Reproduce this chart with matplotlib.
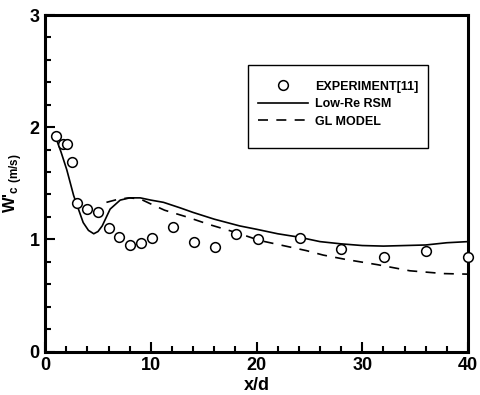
import numpy as np
import matplotlib
matplotlib.use("Agg")
import matplotlib.pyplot as plt
from matplotlib.ticker import MultipleLocator
from matplotlib.patches import Rectangle

plt.rcParams['font.family'] = ['Liberation Sans', 'DejaVu Sans']
plt.rcParams['font.weight'] = 'bold'
plt.rcParams['mathtext.fontset'] = 'custom'
plt.rcParams['mathtext.rm'] = 'Liberation Sans:bold'
plt.rcParams['mathtext.bf'] = 'Liberation Sans:bold'

# experiment [11]
exp_x = [1.0, 1.7, 2.05, 2.5, 3.0, 4.0, 5.0, 6.05, 7.0, 8.0, 9.05, 10.1,
         12.1, 14.1, 16.1, 18.1, 20.1, 24.1, 28.0, 32.1, 36.0, 40.0]
exp_y = [1.92, 1.85, 1.85, 1.69, 1.32, 1.27, 1.24, 1.10, 1.02, 0.95, 0.97, 1.01,
         1.11, 0.98, 0.93, 1.05, 1.00, 1.01, 0.91, 0.84, 0.90, 0.84]

# Low-Re RSM
rsm_x = [1.0, 1.5, 2.05, 2.7, 3.0, 3.6, 4.1, 4.6, 5.0, 5.4, 6.15, 7.1, 8.0, 9.0,
         10.0, 11.2, 12.8, 14.0, 16.0, 18.4, 20.0, 22.0, 24.0, 26.0, 28.0, 30.0,
         32.0, 34.0, 36.0, 38.0, 40.0]
rsm_y = [1.91, 1.78, 1.62, 1.39, 1.31, 1.15, 1.08, 1.05, 1.07, 1.12, 1.27, 1.35, 1.37, 1.37,
         1.35, 1.33, 1.28, 1.24, 1.18, 1.12, 1.09, 1.05, 1.02, 0.98, 0.96, 0.945,
         0.94, 0.945, 0.95, 0.97, 0.98]

# GL model
gl_x = [5.8, 7.0, 8.0, 9.0, 9.9, 11.3, 13.4, 15.6, 18.1, 20.3, 22.5, 24.7, 26.3,
        28.5, 31.4, 34.5, 37.7, 40.0]
gl_y = [1.33, 1.36, 1.37, 1.36, 1.32, 1.26, 1.20, 1.13, 1.06, 0.99, 0.945, 0.90, 0.86,
        0.82, 0.775, 0.72, 0.695, 0.69]

fig = plt.figure(figsize=(4.8, 3.95), dpi=100)
ax = fig.add_axes([0.094, 0.11, 0.881, 0.852])

ax.plot(exp_x, exp_y, 'o', mfc='white', mec='black', ms=7, mew=1.1,
        label='EXPERIMENT[11]', zorder=3, clip_on=False)
ax.plot(rsm_x, rsm_y, '-', color='black', lw=1.2, label='Low-Re RSM')
ax.plot(gl_x, gl_y, '--', color='black', lw=1.2, dashes=(6, 5), label='GL MODEL')

ax.set_xlim(0, 40)
ax.set_ylim(0, 3)
ax.xaxis.set_major_locator(MultipleLocator(10))
ax.xaxis.set_minor_locator(MultipleLocator(2))
ax.yaxis.set_major_locator(MultipleLocator(1))
ax.yaxis.set_minor_locator(MultipleLocator(0.2))
ax.tick_params(which='both', direction='in', top=False, right=False, width=1.5)
ax.tick_params(which='major', length=7, labelsize=13, pad=4)
ax.tick_params(which='minor', length=4)
for s in ax.spines.values():
    s.set_linewidth(2.2)

ax.set_xlabel('x/d', fontsize=13, fontweight='bold', labelpad=2)
ax.set_ylabel(r"W'$_{\mathrm{c\ (m/s)}}$", fontsize=12, fontweight='bold', labelpad=4)

# legend box drawn separately
ax.add_patch(Rectangle((0.48, 0.605), 0.425, 0.246, transform=ax.transAxes,
                       fill=False, edgecolor='black', lw=1.0, zorder=4))
leg = ax.legend(loc='center left', bbox_to_anchor=(0.503, 0.735), frameon=False,
                fontsize=9, handlelength=4.0, borderpad=0, borderaxespad=0,
                labelspacing=0.45, handletextpad=0.55)

fig.savefig('out.png', dpi=100)
